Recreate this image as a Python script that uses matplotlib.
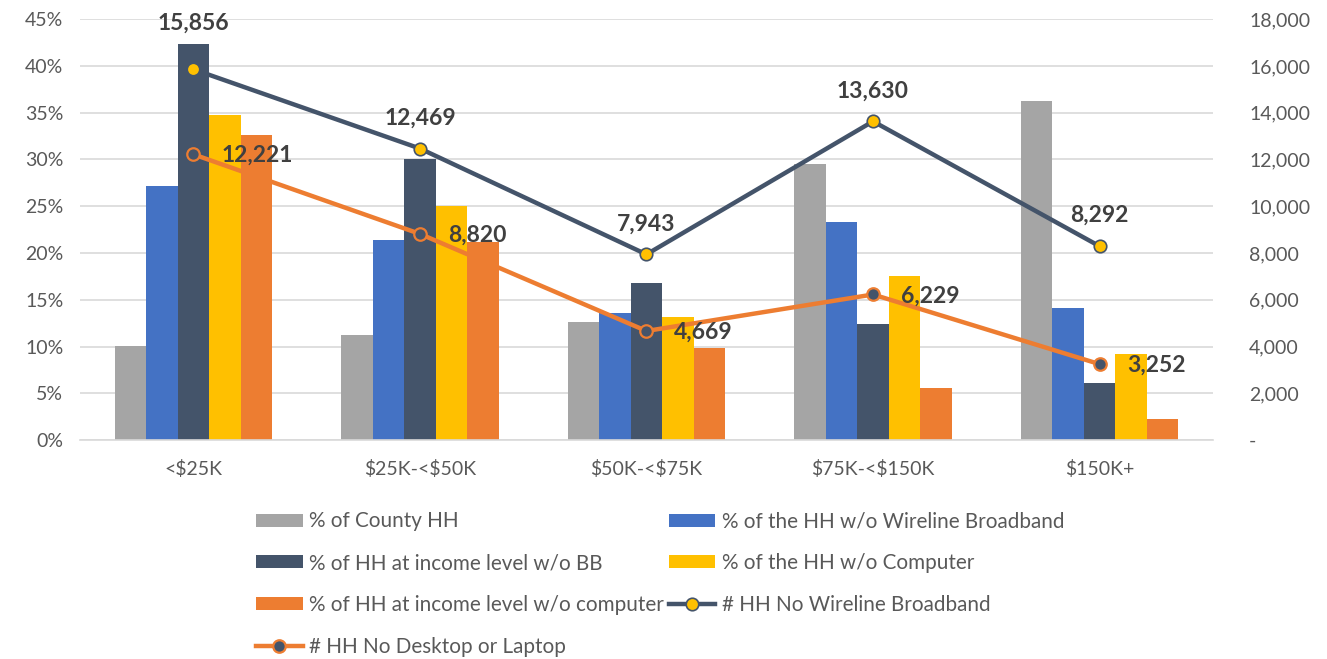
import numpy as np
import matplotlib.pyplot as plt
from matplotlib.ticker import FuncFormatter

plt.rcParams['font.family'] = ['Lato', 'DejaVu Sans']
plt.rcParams['text.parse_math'] = False

# data
categories = ['<$25K', '$25K-<$50K', '$50K-<$75K', '$75K-<$150K', '$150K+']
pct_county_hh = [10.1, 11.2, 12.6, 29.5, 36.2]
pct_hh_no_wireline = [27.2, 21.4, 13.6, 23.3, 14.1]
pct_income_no_bb = [42.3, 30.0, 16.8, 12.4, 6.1]
pct_hh_no_computer = [34.7, 25.0, 13.2, 17.6, 9.2]
pct_income_no_computer = [32.6, 21.2, 9.9, 5.6, 2.3]
hh_no_wireline = [15856, 12469, 7943, 13630, 8292]
hh_no_desktop = [12221, 8820, 4669, 6229, 3252]

bar_series = [
    ('% of County HH', pct_county_hh, '#A5A5A5'),
    ('% of the HH w/o Wireline Broadband', pct_hh_no_wireline, '#4472C4'),
    ('% of HH at income level w/o BB', pct_income_no_bb, '#44546A'),
    ('% of the HH w/o Computer', pct_hh_no_computer, '#FFC000'),
    ('% of HH at income level w/o computer', pct_income_no_computer, '#ED7D31'),
]

fig = plt.figure(figsize=(13.27, 6.59), dpi=100)
ax1 = fig.add_axes([0.0603, 0.332, 0.8537, 0.639])
ax2 = ax1.twinx()

x = np.arange(len(categories))
w = 0.139
bars = []
for i, (name, vals, col) in enumerate(bar_series):
    b = ax1.bar(x + (i - 2) * w, vals, w, color=col, label=name, zorder=2)
    bars.append(b)

ax1.set_ylim(0, 45)
ax1.set_xlim(-0.5, len(categories) - 0.5)
ax1.set_yticks(np.arange(0, 46, 5))
ax1.yaxis.set_major_formatter(FuncFormatter(lambda v, p: f'{v:.0f}%'))
ax1.yaxis.grid(True, color='#D9D9D9', linewidth=1.2, zorder=0)
ax1.set_axisbelow(True)
ax1.set_xticks(x)
ax1.set_xticklabels(categories)
for s in ['top', 'right', 'left']:
    ax1.spines[s].set_visible(False)
ax1.spines['bottom'].set_color('#D9D9D9')
ax1.spines['bottom'].set_linewidth(1.2)
ax1.tick_params(axis='both', length=0, labelsize=14, labelcolor='#595959')
ax1.tick_params(axis='x', pad=14)
ax1.tick_params(axis='y', pad=12)

ax2.set_ylim(0, 18000)
ax2.set_yticks(np.arange(0, 18001, 2000))
ax2.yaxis.set_major_formatter(FuncFormatter(lambda v, p: '-' if v == 0 else f'{v:,.0f}'))
for s in ax2.spines.values():
    s.set_visible(False)
ax2.tick_params(axis='y', length=0, labelsize=14, labelcolor='#595959', pad=26)

navy_line, = ax2.plot(x, hh_no_wireline, color='#44546A', linewidth=3.2, marker='o',
                      markersize=9, markerfacecolor='#FFC000', markeredgecolor='#44546A',
                      markeredgewidth=1.2, label='# HH No Wireline Broadband', zorder=4)
orange_line, = ax2.plot(x, hh_no_desktop, color='#ED7D31', linewidth=3.2, marker='o',
                        markersize=9, markerfacecolor='#44546A', markeredgecolor='#ED7D31',
                        markeredgewidth=1.6, label='# HH No Desktop or Laptop', zorder=4)

for i, v in enumerate(hh_no_wireline):
    dy = 33 if i == 0 else 22
    ax2.annotate(f'{v:,}', (x[i], v), xytext=(0, dy), textcoords='offset points',
                 ha='center', va='center', fontsize=16.5, fontweight='bold', color='#404040', zorder=5)
for i, v in enumerate(hh_no_desktop):
    ax2.annotate(f'{v:,}', (x[i], v), xytext=(20, -1), textcoords='offset points',
                 ha='left', va='center', fontsize=16.5, fontweight='bold', color='#404040', zorder=5)

# legend: matplotlib fills columns first, so reorder to match the picture
handles = [bars[0], bars[2], bars[4], orange_line, bars[1], bars[3], navy_line]
labels = [h.get_label() for h in handles]
fig.legend(handles, labels, ncol=2, loc='upper left', bbox_to_anchor=(0.193, 0.224),
           frameon=False, fontsize=14.9, labelcolor='#595959', handlelength=2.25,
           handleheight=0.6, handletextpad=0.3, columnspacing=0.25, labelspacing=1.05,
           borderaxespad=0, borderpad=0)

plt.savefig('out.png', dpi=100)
